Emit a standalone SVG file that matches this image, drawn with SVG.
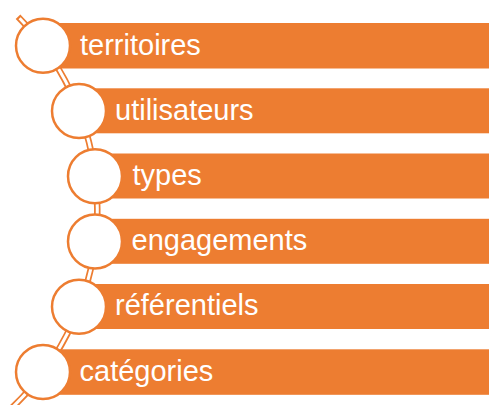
<svg xmlns="http://www.w3.org/2000/svg" width="489" height="405" viewBox="0 0 489 405">
<style>
.bar{fill:#ED7D31}
.dot{fill:#FFFFFF;stroke:#ED7D31;stroke-width:2.5}
.lbl{fill:#FFFFFF;font-family:"Liberation Sans",Arial,sans-serif;font-size:29px}
.trackO{fill:none;stroke:#ED7D31;stroke-width:6.5}
.trackI{fill:none;stroke:#FFFFFF;stroke-width:3}
</style>
<rect width="489" height="405" fill="#FFFFFF"/>
<g id="connectors">
<path class="trackO" d="M18,16.7 A273.5,273.5 0 0 1 12,407.7"/>
<path class="trackI" d="M19.6,18.3 A273.5,273.5 0 0 1 12,407.7"/>
</g>
<g id="node1"><rect class="bar" x="43" y="23" width="446" height="45.5"/><circle class="dot" cx="43" cy="45.8" r="27"/><text class="lbl" x="80" y="54.5">territoires</text></g>
<g id="node2"><rect class="bar" x="79" y="88.3" width="410" height="45"/><circle class="dot" cx="79" cy="111" r="27"/><text class="lbl" x="115" y="119.5">utilisateurs</text></g>
<g id="node3"><rect class="bar" x="95" y="153.5" width="394" height="45"/><circle class="dot" cx="95" cy="176.3" r="27"/><text class="lbl" x="132.5" y="184.5">types</text></g>
<g id="node4"><rect class="bar" x="95" y="218.8" width="394" height="45"/><circle class="dot" cx="95" cy="241.5" r="27"/><text class="lbl" x="131.5" y="250">engagements</text></g>
<g id="node5"><rect class="bar" x="79" y="284" width="410" height="45"/><circle class="dot" cx="79" cy="306.8" r="27"/><text class="lbl" x="115" y="315">référentiels</text></g>
<g id="node6"><rect class="bar" x="43" y="349.3" width="446" height="45.5"/><circle class="dot" cx="43" cy="372" r="27"/><text class="lbl" x="79.5" y="380.5">catégories</text></g>
</svg>
